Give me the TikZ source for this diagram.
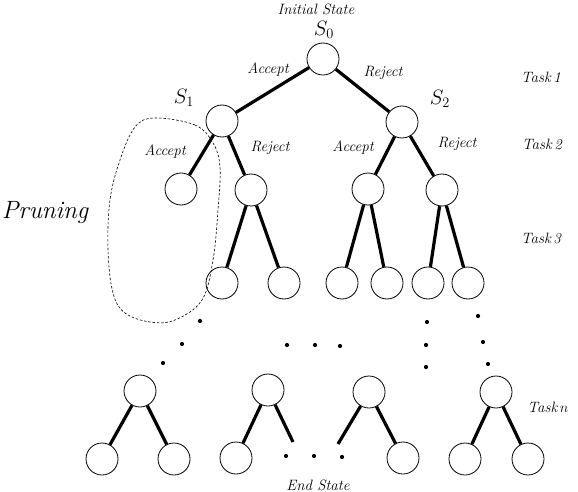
\documentclass[tikz,border=0pt]{standalone}
\usepackage{amsmath}
\usepackage{fontspec}
\usetikzlibrary{positioning}

\tikzset{
  state/.style={circle,draw,line width=0.8pt,minimum size=32pt,inner sep=0pt},
  edge/.style={line width=3.2pt},
  lbl/.style={font=\fontsize{15}{17}\selectfont\itshape,inner sep=1pt},
  sname/.style={font=\fontsize{22}{25}\selectfont},
  prune/.style={line width=0.6pt,dash pattern=on 2.5pt off 1.8pt},
}

\begin{document}
\begin{tikzpicture}[x=1pt,y=-1pt]
    \useasboundingbox (0,0) rectangle (578,492);
    \def\r{2.1} % dot radius

    % Task 1
    \node[state] (s0) at (323,59) {};
    \node[state] (s1) at (222,121) {};
    \node[state] (s2) at (402,122) {};
    % Task 2
    \node[state] (s11) at (181,189) {};
    \node[state] (s12) at (251,190) {};
    \node[state] (s21) at (368,189) {};
    \node[state] (s22) at (442,190) {};
    % Task 3
    \foreach \n/\x in {a/222,b/284,c/342,d/387,e/428,f/468}
        \node[state] (t\n) at (\x,283) {};
    % Task n
    \node[state] (na) at (140,391) {};
    \node[state] (nb) at (268,390) {};
    \node[state] (nc) at (369,392) {};
    \node[state] (nd) at (496,392) {};
    % End State
    \node[state] (na1) at (102,459) {};
    \node[state] (na2) at (174,459) {};
    \node[state] (nb1) at (236,458) {};
    \coordinate (nb2) at (293,442);
    \coordinate (nc1) at (338,444);
    \node[state] (nc2) at (403,458) {};
    \node[state] (nd1) at (465,459) {};
    \node[state] (nd2) at (528,459) {};

    \foreach \a/\b in {s0/s1,s0/s2,s1/s11,s1/s12,s2/s21,s2/s22,
                       s12/ta,s12/tb,s21/tc,s21/td,s22/te,s22/tf,
                       na/na1,na/na2,nb/nb1,nb/nb2,nc/nc1,nc/nc2,nd/nd1,nd/nd2}
        \draw[edge] (\a) -- (\b);

    % labels
    \node[lbl] (init) at (316,9) {Initial State};
    \node[sname] (l0) at (324,30) {$S_0$};
    \node[sname] (l1) at (184,98) {$S_1$};
    \node[sname] (l2) at (440,99) {$S_2$};
    \node[lbl] (acc0) at (268,70) {Accept};
    \node[lbl] (rej0) at (383,73) {Reject};
    \node[lbl] (acc1) at (165,152) {Accept};
    \node[lbl] (rej1) at (270,148) {Reject};
    \node[lbl] (acc2) at (353,148) {Accept};
    \node[lbl] (rej2) at (457,144) {Reject};
    \node[lbl] (task1) at (541,77) {Task\,1};
    \node[lbl] (task2) at (542,144) {Task\,2};
    \node[lbl] (task3) at (541,238) {Task\,3};
    \node[lbl] (taskn) at (548,407) {Task\,$n$};
    \node[lbl] (endst) at (318,485) {End State};
    \node[font=\fontsize{25}{29}\selectfont\itshape] (prn) at (45,213) {Pruning};

    % pruned branch
    \draw[prune] plot[smooth cycle,tension=0.6] coordinates {
        (155,118) (195,125) (213,143) (220,167) (218,210) (213,260) (202,300)
        (175,320) (150,322) (125,313) (113,293) (108,250) (110,200) (120,160) (135,127)};

    % dots
    \foreach \x/\y in {200/321,182/344,163/363,287/345,315/345,340/346,
                       427/322,426/345,426/367,478/316,483/342,488/364,
                       286/456,314/456,342/457}
        \fill (\x,\y) circle (\r);
\end{tikzpicture}
\end{document}
